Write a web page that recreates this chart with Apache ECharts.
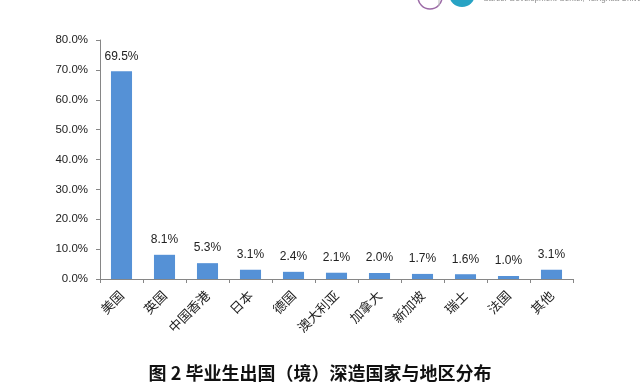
<!DOCTYPE html>
<html><head><meta charset="utf-8">
<script src="https://cdn.jsdelivr.net/npm/echarts@6/dist/echarts.min.js"></script>
<style>html,body{margin:0;padding:0;background:#fff}#c{width:640px;height:384px}</style>
</head><body><div id="c"></div>
<script>
const categories = ['美国','英国','中国香港','日本','德国','澳大利亚','加拿大','新加坡','瑞士','法国','其他'];
const values = [69.5, 8.1, 5.3, 3.1, 2.4, 2.1, 2.0, 1.7, 1.6, 1.0, 3.1];
const titleText = '图 2 毕业生出国（境）深造国家与地区分布';
const logoText = 'Career Development Center, Tsinghua University';

const chart = echarts.init(document.getElementById('c'), null, {renderer: 'canvas'});
chart.setOption({
  animation: false,
  backgroundColor: '#fff',
  title: {
    text: titleText, left: 'center', top: 359,
    textStyle: {fontFamily: 'Noto Sans CJK SC', fontSize: 18, fontWeight: 'bold', color: '#111'}
  },
  grid: {left: 100, right: 67, top: 40, bottom: 105, containLabel: false},
  xAxis: {
    type: 'category', data: categories,
    axisLine: {lineStyle: {color: '#868686', width: 1}},
    axisTick: {show: true, length: 4, lineStyle: {color: '#868686'}},
    axisLabel: {rotate: 45, margin: 14, fontFamily: 'Noto Sans CJK SC', fontSize: 13, color: '#222'}
  },
  yAxis: {
    type: 'value', min: 0, max: 80, interval: 10,
    axisLine: {show: true, lineStyle: {color: '#868686', width: 1}},
    axisTick: {show: true, length: 4, lineStyle: {color: '#868686'}},
    splitLine: {show: false},
    axisLabel: {margin: 12, fontFamily: 'Liberation Sans', fontSize: 11.5, color: '#222',
      formatter: v => v.toFixed(1) + '%'}
  },
  series: [{
    type: 'bar', data: values, barWidth: '49%',
    itemStyle: {color: '#5591d6'},
    label: {show: true, position: 'top', distance: 9, fontFamily: 'Liberation Sans', fontSize: 12, color: '#222',
      formatter: p => p.value.toFixed(1) + '%'}
  }],
  graphic: [
    {type: 'circle', shape: {cx: 430, cy: -3, r: 12}, style: {fill: '#fff', stroke: '#9b6aa6', lineWidth: 1.5}},
    {type: 'line', shape: {x1: 439, y1: 0, x2: 439, y2: 6}, style: {stroke: '#bbb', lineWidth: 1}},
    {type: 'circle', shape: {cx: 462, cy: -6, r: 13}, style: {fill: '#28a3c4'}},
    {type: 'text', x: 483, y: -5, style: {text: logoText, fontFamily: 'Liberation Sans', fontSize: 8, fill: '#8a8a8a'}}
  ]
});
</script></body></html>
